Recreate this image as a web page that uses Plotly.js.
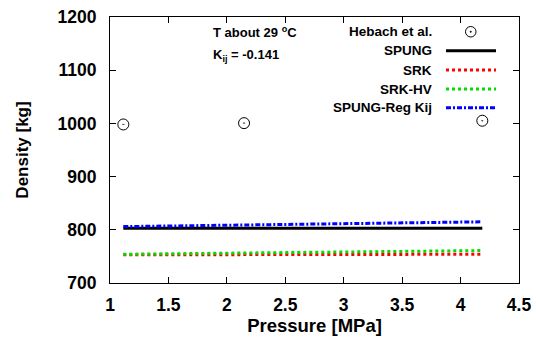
<!DOCTYPE html>
<html><head><meta charset="utf-8">
<script src="https://cdn.plot.ly/plotly-3.0.1.min.js"></script>
<style>html,body{margin:0;padding:0;background:#fff}#c{width:536px;height:339px}</style>
</head><body><div id="c"></div>
<script>
// Data
const hebachP = [1.114, 2.147, 4.186];
const hebachD = [998, 1000.5, 1005];
const modelP = [1.114, 2.147, 4.186];
const spungD = [803, 803, 803];
const srkD = [753, 753.5, 754];
const srkhvD = [754, 756.5, 761];
const spungRegD = [806, 809, 815];
const xTicks = [1, 1.5, 2, 2.5, 3, 3.5, 4, 4.5];
const yTicks = [700, 800, 900, 1000, 1100, 1200];
const seriesNames = ['Hebach et al.', 'SPUNG', 'SRK', 'SRK-HV', 'SPUNG-Reg Kij'];

const F = 'Liberation Sans, Arial, sans-serif';
const traces = [
  {x: hebachP, y: hebachD, mode: 'markers', name: seriesNames[0],
   marker: {symbol: 'circle-open-dot', size: 11, color: '#000', line: {width: 1, color: '#000'}}},
  {x: modelP, y: spungD, mode: 'lines', name: seriesNames[1], line: {color: '#000', width: 3}},
  {x: modelP, y: srkD, mode: 'lines', name: seriesNames[2], line: {color: '#ff0000', width: 3, dash: 'dot'}},
  {x: modelP, y: srkhvD, mode: 'lines', name: seriesNames[3], line: {color: '#00dd00', width: 3, dash: 'dot'}},
  {x: modelP, y: spungRegD, mode: 'lines', name: seriesNames[4], line: {color: '#0000ff', width: 3, dash: '5px,2px,2px,2px'}}
];

const L = 110, R = 519, T = 17, B = 283;
const px = v => (v - L) / (R - L);
const py = v => (B - v) / (B - T);
const legY = [31.7, 50.7, 70, 89, 107.7];
const annotations = [];
const shapes = [];
seriesNames.forEach((n, i) => {
  annotations.push({xref: 'paper', yref: 'paper', x: px(434), y: py(legY[i]), xanchor: 'right', yanchor: 'middle',
    text: n, showarrow: false, font: {family: F, size: 13.5, color: '#000', weight: 'bold'}});
});
const lineStyles = [null, traces[1].line, traces[2].line, traces[3].line, traces[4].line];
for (let i = 1; i < 5; i++) {
  shapes.push({type: 'line', xref: 'paper', yref: 'paper', x0: px(446), x1: px(496), y0: py(legY[i]), y1: py(legY[i]),
    line: lineStyles[i]});
}
shapes.push({type: 'circle', xref: 'paper', yref: 'paper', x0: px(465.5), x1: px(476), y0: py(37), y1: py(26.5),
  line: {color: '#000', width: 1}});
shapes.push({type: 'circle', xref: 'paper', yref: 'paper', x0: px(470.2), x1: px(471.3), y0: py(32.3), y1: py(31.2),
  line: {color: '#000', width: 1}, fillcolor: '#000'});
annotations.push({xref: 'paper', yref: 'paper', x: px(211), y: py(32), xanchor: 'left', yanchor: 'middle',
  text: 'T about 29 <sup>o</sup>C', showarrow: false, font: {family: F, size: 13, color: '#000', weight: 'bold'}});
annotations.push({xref: 'paper', yref: 'paper', x: px(211), y: py(56), xanchor: 'left', yanchor: 'middle',
  text: 'K<sub>ij</sub> = -0.141', showarrow: false, font: {family: F, size: 13, color: '#000', weight: 'bold'}});

const axBase = {showgrid: false, zeroline: false, showline: true, linecolor: '#000', linewidth: 1,
  mirror: 'ticks', ticks: 'inside', ticklen: 6, tickcolor: '#000',
  tickfont: {family: F, size: 17.5, color: '#000', weight: 'bold'}};

const layout = {
  width: 536, height: 339, showlegend: false,
  paper_bgcolor: '#fff', plot_bgcolor: '#fff',
  margin: {l: L, r: 536 - R, t: T, b: 339 - B},
  xaxis: Object.assign({}, axBase, {range: [1, 4.5], tickvals: xTicks, ticktext: xTicks.map(String),
    ticklabelstandoff: 6,
    title: {text: 'Pressure [MPa]', font: {family: F, size: 18.5, color: '#000', weight: 'bold'}, standoff: 4}}),
  yaxis: Object.assign({}, axBase, {range: [700, 1200], tickvals: yTicks, ticktext: yTicks.map(String),
    ticklabelstandoff: 9,
    title: {text: 'Density [kg]', font: {family: F, size: 17, color: '#000', weight: 'bold'}, standoff: 24}}),
  annotations: annotations, shapes: shapes
};
Plotly.newPlot('c', traces, layout, {displayModeBar: false, staticPlot: true});
</script></body></html>
